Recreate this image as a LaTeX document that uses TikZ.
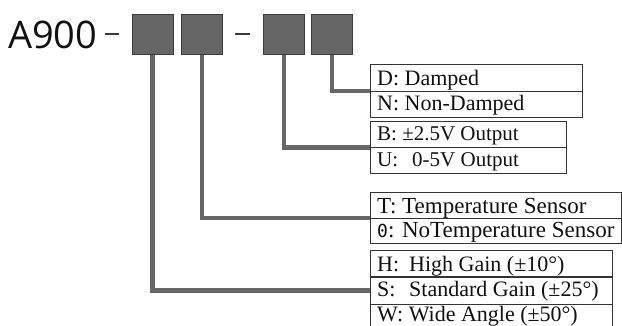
\documentclass[tikz,border=0pt]{standalone}
\usepackage{fontspec}
\usetikzlibrary{calc}
\newfontfamily\tblfont{Liberation Serif}
\newfontfamily\hdrfont{Open Sans}
\newfontfamily\zerofont{DejaVu Sans Mono}
\definecolor{sqfill}{HTML}{666666}
\definecolor{sqedge}{HTML}{3A3A3A}
\definecolor{conn}{HTML}{666666}
\definecolor{tbledge}{HTML}{333333}
\definecolor{txt}{HTML}{111111}
\tikzset{
  sq/.style={draw=sqedge, fill=sqfill, line width=1pt, minimum width=41pt, minimum height=40pt, inner sep=0pt, anchor=north west},
  connector/.style={draw=conn, line width=4.5pt},
  tbl/.style={draw=tbledge, line width=1.2pt, inner sep=0pt, anchor=north west},
  tbldiv/.style={draw=tbledge, line width=1.2pt},
  entry/.style={anchor=base west, inner sep=0pt, text=txt, font=\tblfont\fontsize{22}{22}\selectfont},
  entrysmall/.style={entry, font=\tblfont\fontsize{21}{21}\selectfont},
  dashline/.style={draw=sqedge, line width=1.8pt},
}
\begin{document}
\begin{tikzpicture}[x=1pt,y=-1pt]
\path[use as bounding box] (0,0) rectangle (622,325);
\clip (0,0) rectangle (622,325);
\fill[white] (0,0) rectangle (622,325);

% header
\node[anchor=base west, inner sep=0pt, text=txt, font=\hdrfont\fontsize{38}{38}\selectfont] (title) at (8,48) {A900};
\coordinate (d1a) at (105,34); \coordinate (d1b) at (119,34);
\coordinate (d2a) at (235,34); \coordinate (d2b) at (250,34);
\draw[dashline] (d1a) -- (d1b);
\draw[dashline] (d2a) -- (d2b);

% squares
\node[sq] (s1) at (131.5,14) {};
\node[sq] (s2) at (181,14) {};
\node[sq] (s3) at (263,14) {};
\node[sq] (s4) at (311,14) {};

% tables
\node[tbl, minimum width=212pt, minimum height=53pt] (dn) at (369.5,64) {};
\node[tbl, minimum width=196.5pt, minimum height=51.5pt] (bu) at (369.5,121) {};
\node[tbl, minimum width=251.5pt, minimum height=51pt] (tz) at (369.5,192) {};
\node[tbl, minimum width=242pt, minimum height=81pt] (hsw) at (369.5,249.5) {};

\draw[tbldiv] (dn.west) -- (dn.east);
\draw[tbldiv] (bu.west) -- (bu.east);
\draw[tbldiv] (tz.west) -- (tz.east);
\draw[tbldiv] ($(hsw.north west)!1/3!(hsw.south west)$) -- ($(hsw.north east)!1/3!(hsw.south east)$);
\draw[tbldiv] ($(hsw.north west)!2/3!(hsw.south west)$) -- ($(hsw.north east)!2/3!(hsw.south east)$);

% connectors
\draw[connector] (s4.south) |- (dn.west);
\draw[connector] (s3.south) |- (bu.west);
\draw[connector] (s2.south) |- (tz.west);
\draw[connector] (s1.south) |- (hsw.west);

% entries
\node[entry] (eD) at (377,85.7) {D: Damped};
\node[entry] (eN) at (377,110.7) {N: Non-Damped};
\node[entrysmall] (eB) at (377,140) {B: ±2.5V Output};
\node[entrysmall] (eU) at (377,166.3) {\makebox[35pt][l]{U:}0-5V Output};
\node[entry, font=\tblfont\fontsize{23}{23}\selectfont] (eT) at (377,213) {T: Temperature Sensor};
\node[entry, font=\tblfont\fontsize{23}{23}\selectfont] (e0) at (377,237.3) {{\zerofont\fontsize{18}{18}\selectfont 0}: NoTemperature Sensor};
\node[entry] (eH) at (377,271) {\makebox[32pt][l]{H:}High Gain (±10°)};
\node[entry] (eS) at (377,296) {\makebox[32pt][l]{S:}Standard Gain (±25°)};
\node[entry] (eW) at (377,321) {W: Wide Angle (±50°)};
\end{tikzpicture}
\end{document}
